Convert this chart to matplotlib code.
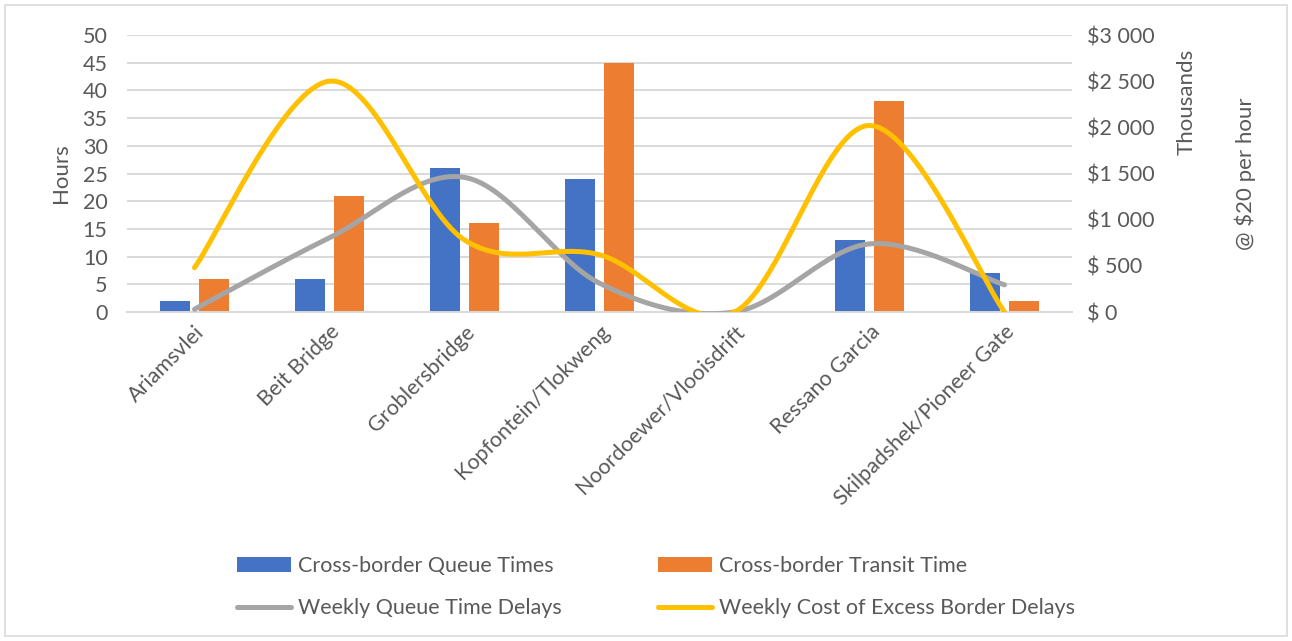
import numpy as np
import matplotlib.pyplot as plt
from matplotlib.patches import Rectangle
from matplotlib.ticker import FuncFormatter

plt.rcParams['font.family'] = ['Lato', 'DejaVu Sans']

crossings = ['Ariamsvlei', 'Beit Bridge', 'Groblersbridge', 'Kopfontein/Tlokweng',
             'Noordoewer/Vlooisdrift', 'Ressano Garcia', 'Skilpadshek/Pioneer Gate']
queue_hours = [2, 6, 26, 24, 0, 13, 7]
transit_hours = [6, 21, 16, 45, 0, 38, 2]
weekly_queue_delay = [0.5, 13.4, 24.3, 5.2, 0, 12.3, 4.9]
weekly_cost_k = [480, 2500, 780, 620, 0, 2020, 0]

BLUE = '#4472C4'
ORANGE = '#ED7D31'
GREY = '#A5A5A5'
YELLOW = '#FFC000'
TXT = '#595959'
GRID = '#D9D9D9'
FS = 15.5


def smooth(xs, ys, n=60):
    # bezier segments with catmull-rom style control points
    xs = np.asarray(xs, float)
    ys = np.asarray(ys, float)
    px = np.concatenate([[xs[0]], xs, [xs[-1]]])
    py = np.concatenate([[ys[0]], ys, [ys[-1]]])
    outx, outy = [], []
    t = np.linspace(0, 1, n)
    for i in range(1, len(xs)):
        p0 = np.array([px[i], py[i]])
        p3 = np.array([px[i + 1], py[i + 1]])
        c1 = p0 + (np.array([px[i + 1], py[i + 1]]) - np.array([px[i - 1], py[i - 1]])) / 6
        c2 = p3 - (np.array([px[i + 2], py[i + 2]]) - np.array([px[i], py[i]])) / 6
        b = ((1 - t) ** 3)[:, None] * p0 + (3 * (1 - t) ** 2 * t)[:, None] * c1 \
            + (3 * (1 - t) * t ** 2)[:, None] * c2 + (t ** 3)[:, None] * p3
        outx.extend(b[:, 0])
        outy.extend(b[:, 1])
    return np.array(outx), np.array(outy)


fig = plt.figure(figsize=(12.92, 6.41), dpi=100)
ax = fig.add_axes([127 / 1292, 1 - 312 / 641, 945 / 1292, 277 / 641])
ax2 = ax.twinx()

x = np.arange(len(crossings))
w = 0.222
off = 0.141
b1 = ax.bar(x - off, queue_hours, w, color=BLUE, zorder=2)
b2 = ax.bar(x + off, transit_hours, w, color=ORANGE, zorder=2)

sx, sy = smooth(x, weekly_queue_delay)
l1, = ax.plot(sx, sy, color=GREY, lw=3.6, solid_capstyle='round', zorder=3)
sx, sy = smooth(x, weekly_cost_k)
l2, = ax2.plot(sx, sy, color=YELLOW, lw=3.6, solid_capstyle='round', zorder=4)

ax.set_xlim(-0.5, len(crossings) - 0.5)
ax.set_ylim(0, 50)
ax.set_yticks(range(0, 51, 5))
ax2.set_ylim(0, 3000)
ax2.set_yticks(range(0, 3001, 500))
ax2.yaxis.set_major_formatter(FuncFormatter(
    lambda v, p: f'${int(v) // 1000} {int(v) % 1000:03d}' if v >= 1000 else f'$ {int(v)}'))

ax.grid(axis='y', color=GRID, lw=1.4, zorder=0)
ax.set_axisbelow(True)
for a in (ax, ax2):
    for s in a.spines.values():
        s.set_visible(False)
ax.spines['bottom'].set_visible(True)
ax.spines['bottom'].set_color(GRID)
ax.spines['bottom'].set_linewidth(1.4)

ax.tick_params(axis='y', length=0, pad=14, labelsize=FS, labelcolor=TXT)
ax2.tick_params(axis='y', length=0, pad=11, labelsize=FS, labelcolor=TXT)
ax.set_xticks(x)
ax.set_xticklabels(crossings, rotation=45, ha='right', va='top',
                   rotation_mode='anchor', fontsize=FS, color=TXT)
ax.tick_params(axis='x', length=0, pad=7)

ax.set_ylabel('Hours', fontsize=16, color=TXT)
ax.yaxis.set_label_coords((71 - 127) / 945, 0.5)
ax2.set_ylabel('@ $20 per hour', fontsize=16, color=TXT, rotation=90)
ax2.yaxis.set_label_coords((1235 - 127) / 945, 0.5)
fig.text(1187 / 1292, 1 - 102 / 641, 'Thousands', rotation=90, fontsize=16,
         color=TXT, ha='center', va='center')

fig.legend([b1, l1, b2, l2],
           ['Cross-border Queue Times', 'Weekly Queue Time Delays',
            'Cross-border Transit Time', 'Weekly Cost of Excess Border Delays'],
           ncol=2, loc='center', bbox_to_anchor=(656 / 1292, 54 / 641),
           frameon=False, fontsize=FS, labelcolor=TXT, handlelength=2.5,
           handletextpad=0.3, columnspacing=4.5, labelspacing=1.05)

fig.patches.append(Rectangle((5 / 1292, 5 / 641), 1282 / 1292, 631 / 641,
                             transform=fig.transFigure, fill=False,
                             edgecolor=GRID, lw=1.2))

fig.savefig('out.png', dpi=100)
